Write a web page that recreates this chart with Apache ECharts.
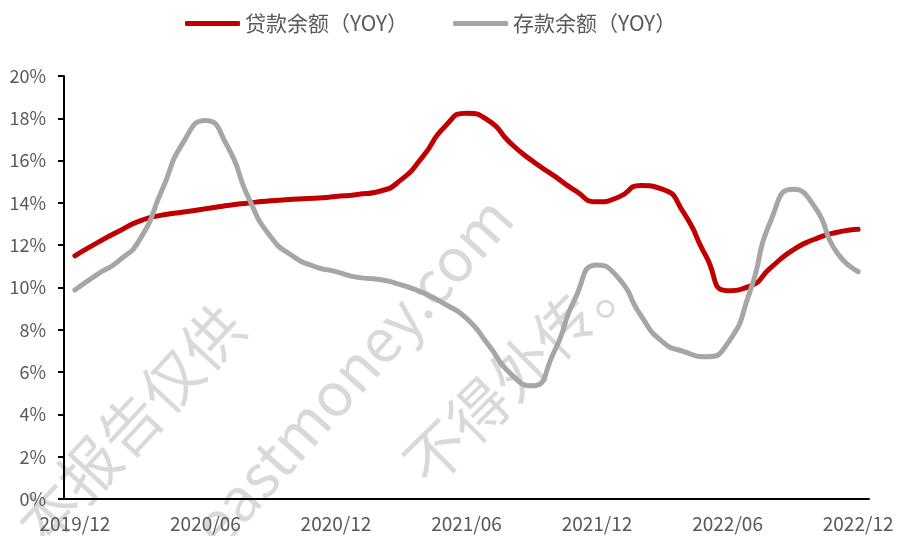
<!DOCTYPE html>
<html>
<head>
<meta charset="utf-8">
<script src="https://cdn.jsdelivr.net/npm/echarts@6/dist/echarts.min.js"></script>
<style>
  html, body { margin: 0; padding: 0; background: #fff; }
  #chart { width: 902px; height: 536px; }
</style>
</head>
<body>
<div id="chart"></div>
<script>
const months = [
  "2019/12", "2020/01", "2020/02", "2020/03", "2020/04", "2020/05", "2020/06",
  "2020/07", "2020/08", "2020/09", "2020/10", "2020/11", "2020/12",
  "2021/01", "2021/02", "2021/03", "2021/04", "2021/05", "2021/06",
  "2021/07", "2021/08", "2021/09", "2021/10", "2021/11", "2021/12",
  "2022/01", "2022/02", "2022/03", "2022/04", "2022/05", "2022/06",
  "2022/07", "2022/08", "2022/09", "2022/10", "2022/11", "2022/12"
];
// 贷款余额 YoY, %
const loanYoy = [
  11.5, 12.1, 12.65, 13.15, 13.42, 13.57, 13.72,
  13.88, 14.0, 14.1, 14.17, 14.22, 14.3,
  14.4, 14.55, 15.1, 16.2, 17.6, 18.24,
  17.9, 16.85, 16.0, 15.3, 14.58, 14.05,
  14.28, 14.82, 14.65, 13.5, 11.5, 9.85,
  10.05, 10.95, 11.77, 12.28, 12.6, 12.75
];
// 存款余额 YoY, %
const depositYoy = [
  9.88, 10.6, 11.25, 12.3, 14.6, 16.9, 17.9,
  16.7, 14.2, 12.4, 11.5, 11.0, 10.75,
  10.48, 10.38, 10.12, 9.75, 9.22, 8.54,
  7.3, 5.95, 5.35, 6.9, 9.5, 11.06,
  10.43, 8.7, 7.44, 6.97, 6.73, 7.36,
  9.72, 13.19, 14.64, 13.82, 11.69, 10.75
];
const seriesNames = ["贷款余额（YOY）", "存款余额（YOY）"];
const watermarks = ["本报告仅供", "eastmoney.com", "不得外传。"];

const font = "'Noto Sans CJK SC', 'Noto Sans', sans-serif";
const chart = echarts.init(document.getElementById("chart"));

const wmStyle = (text) => ({
  text: text,
  fontSize: 60,
  fontFamily: font,
  fill: "rgba(0,0,0,0.15)",
  align: "center",
  verticalAlign: "middle"
});

chart.setOption({
  animation: false,
  textStyle: { fontFamily: font },
  legend: {
    left: 180,
    top: 8,
    icon: "roundRect",
    itemWidth: 55,
    itemHeight: 5,
    itemGap: 45,
    textStyle: { fontSize: 21, color: "#595959", fontFamily: font },
    data: seriesNames
  },
  grid: { left: 64, right: 33, top: 76, bottom: 37 },
  xAxis: {
    type: "category",
    data: months,
    boundaryGap: true,
    axisLine: { lineStyle: { color: "#000", width: 2 } },
    axisTick: { interval: 5, length: 6, lineStyle: { color: "#000", width: 2 } },
    axisLabel: { interval: 5, fontSize: 19, color: "#595959", margin: 15 }
  },
  yAxis: {
    type: "value",
    min: 0,
    max: 20,
    interval: 2,
    splitLine: { show: false },
    axisLine: { show: true, lineStyle: { color: "#000", width: 2 } },
    axisTick: { show: true, length: 6, lineStyle: { color: "#000", width: 2 } },
    axisLabel: { formatter: "{value}%", fontSize: 18, color: "#595959", margin: 18 }
  },
  graphic: [
    { type: "text", x: 130, y: 425, rotation: 0.82, z: -1, style: wmStyle(watermarks[0]) },
    { type: "text", x: 352, y: 371, rotation: 0.84, z: -1, style: wmStyle(watermarks[1]) },
    { type: "text", x: 521, y: 368, rotation: 0.78, z: -1, style: wmStyle(watermarks[2]) }
  ],
  series: [
    {
      name: seriesNames[0],
      type: "line",
      data: loanYoy,
      smooth: 0.6,
      symbol: "none",
      lineStyle: { color: "#C00000", width: 5, cap: "round" },
      itemStyle: { color: "#C00000" }
    },
    {
      name: seriesNames[1],
      type: "line",
      data: depositYoy,
      smooth: 0.6,
      symbol: "none",
      lineStyle: { color: "#A6A6A6", width: 5, cap: "round" },
      itemStyle: { color: "#A6A6A6" }
    }
  ]
});
</script>
</body>
</html>
